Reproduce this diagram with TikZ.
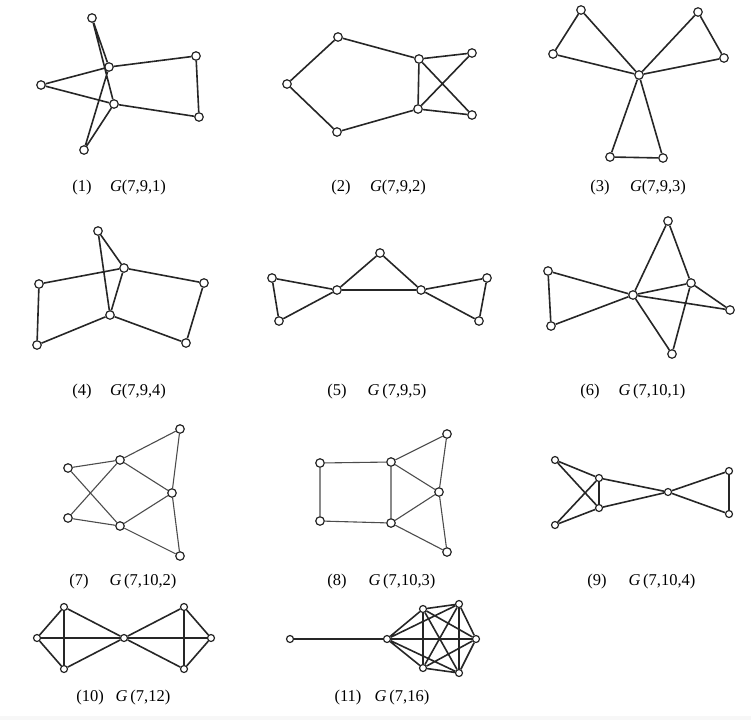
\documentclass[tikz,border=0pt]{standalone}
\usepackage{fontspec}
\setmainfont{Liberation Serif}
\begin{document}
\begin{tikzpicture}[x=1pt,y=-1pt,
  vtx/.style={circle,draw=black!85,fill=white,line width=1.2pt,inner sep=0pt,minimum size=8.5pt},
  svtx/.style={vtx,minimum size=7pt},
  edge/.style={draw=black!85,line width=1.6pt},
  tedge/.style={draw=black!70,line width=1.1pt},
  lbl/.style={font=\fontsize{16.5}{19}\selectfont,inner sep=0pt,anchor=center}]
\useasboundingbox (0,0) rectangle (751,720);
\fill[black!3] (0,716) rectangle (751,720);

% ---------- (1) ----------
\node[vtx] (1a) at (92,18) {};
\node[vtx] (1b) at (109,67) {};
\node[vtx] (1c) at (196,56) {};
\node[vtx] (1d) at (41,85) {};
\node[vtx] (1e) at (114,104) {};
\node[vtx] (1f) at (199,117) {};
\node[vtx] (1g) at (84,150) {};
\path[edge] (1a)--(1b) (1a)--(1e) (1b)--(1c) (1c)--(1f) (1b)--(1d)
  (1d)--(1e) (1e)--(1f) (1b)--(1g) (1e)--(1g);
\node[lbl] (l1n) at (82,188) {(1)};
\node[lbl] (l1g) at (138,188) {\textit{G}(7,9,1)};

% ---------- (2) ----------
\node[vtx] (2a) at (338,37) {};
\node[vtx] (2b) at (287,84) {};
\node[vtx] (2c) at (337,132) {};
\node[vtx] (2d) at (419,59) {};
\node[vtx] (2e) at (418,109) {};
\node[vtx] (2f) at (472,53) {};
\node[vtx] (2g) at (472,115) {};
\path[edge] (2a)--(2b) (2b)--(2c) (2a)--(2d) (2c)--(2e) (2d)--(2e)
  (2d)--(2f) (2e)--(2g) (2d)--(2g) (2e)--(2f);
\node[lbl] (l2n) at (341,188) {(2)};
\node[lbl] (l2g) at (398,188) {\textit{G}(7,9,2)};

% ---------- (3) ----------
\node[vtx] (3o) at (639,75) {};
\node[vtx] (3a) at (581,10) {};
\node[vtx] (3b) at (553,54) {};
\node[vtx] (3c) at (698,12) {};
\node[vtx] (3d) at (724,58) {};
\node[vtx] (3e) at (610,157) {};
\node[vtx] (3f) at (663,158) {};
\path[edge] (3a)--(3b) (3a)--(3o) (3b)--(3o) (3c)--(3d) (3c)--(3o)
  (3d)--(3o) (3e)--(3f) (3e)--(3o) (3f)--(3o);
\node[lbl] (l3n) at (600,188) {(3)};
\node[lbl] (l3g) at (658,188) {\textit{G}(7,9,3)};

% ---------- (4) ----------
\node[vtx] (4a) at (98,231) {};
\node[vtx] (4b) at (124,268) {};
\node[vtx] (4c) at (39,284) {};
\node[vtx] (4d) at (204,283) {};
\node[vtx] (4e) at (110,315) {};
\node[vtx] (4f) at (37,345) {};
\node[vtx] (4g) at (186,343) {};
\path[edge] (4a)--(4b) (4a)--(4e) (4b)--(4e) (4b)--(4c) (4c)--(4f)
  (4f)--(4e) (4b)--(4d) (4d)--(4g) (4g)--(4e);
\node[lbl] (l4n) at (82,392) {(4)};
\node[lbl] (l4g) at (138,392) {\textit{G}(7,9,4)};

% ---------- (5) ----------
\node[vtx] (5a) at (272,278) {};
\node[vtx] (5b) at (279,321) {};
\node[vtx] (5c) at (337,290) {};
\node[vtx] (5d) at (380,253) {};
\node[vtx] (5e) at (421,290) {};
\node[vtx] (5f) at (487,278) {};
\node[vtx] (5g) at (479,321) {};
\path[edge] (5a)--(5b) (5a)--(5c) (5b)--(5c) (5c)--(5d) (5d)--(5e)
  (5c)--(5e) (5e)--(5f) (5e)--(5g) (5f)--(5g);
\node[lbl] (l5n) at (337,392) {(5)};
\node[lbl] (l5g) at (397,392) {\textit{G}\,(7,9,5)};

% ---------- (6) ----------
\node[vtx] (6a) at (668,221) {};
\node[vtx] (6b) at (548,271) {};
\node[vtx] (6c) at (633,295) {};
\node[vtx] (6d) at (691,283) {};
\node[vtx] (6e) at (730,310) {};
\node[vtx] (6f) at (551,326) {};
\node[vtx] (6g) at (672,354) {};
\path[edge] (6b)--(6c) (6f)--(6c) (6b)--(6f) (6a)--(6c) (6a)--(6d)
  (6c)--(6d) (6d)--(6e) (6c)--(6e) (6c)--(6g) (6d)--(6g);
\node[lbl] (l6n) at (590,392) {(6)};
\node[lbl] (l6g) at (652,392) {\textit{G}\,(7,10,1)};

% ---------- (7) ----------
\node[vtx] (7a) at (180,429) {};
\node[vtx] (7b) at (68,468) {};
\node[vtx] (7c) at (120,460) {};
\node[vtx] (7d) at (172,493) {};
\node[vtx] (7e) at (68,518) {};
\node[vtx] (7f) at (120,526) {};
\node[vtx] (7g) at (180,556) {};
\path[tedge] (7b)--(7c) (7b)--(7f) (7e)--(7c) (7e)--(7f) (7c)--(7a)
  (7c)--(7d) (7f)--(7d) (7f)--(7g) (7a)--(7d) (7d)--(7g);
\node[lbl] (l7n) at (79,582) {(7)};
\node[lbl] (l7g) at (143,582) {\textit{G}\,(7,10,2)};

% ---------- (8) ----------
\node[vtx] (8a) at (447,434) {};
\node[vtx] (8b) at (320,463) {};
\node[vtx] (8c) at (391,462) {};
\node[vtx] (8d) at (439,492) {};
\node[vtx] (8e) at (320,521) {};
\node[vtx] (8f) at (391,523) {};
\node[vtx] (8g) at (447,552) {};
\path[tedge] (8b)--(8c) (8b)--(8e) (8e)--(8f) (8c)--(8f) (8c)--(8a)
  (8c)--(8d) (8f)--(8d) (8f)--(8g) (8a)--(8d) (8d)--(8g);
\node[lbl] (l8n) at (337,582) {(8)};
\node[lbl] (l8g) at (402,582) {\textit{G}\,(7,10,3)};

% ---------- (9) ----------
\node[svtx] (9a) at (555,460) {};
\node[svtx] (9b) at (599,478) {};
\node[svtx] (9c) at (599,508) {};
\node[svtx] (9d) at (555,525) {};
\node[svtx] (9e) at (668,492) {};
\node[svtx] (9f) at (729,471) {};
\node[svtx] (9g) at (729,514) {};
\path[edge] (9a)--(9b) (9a)--(9c) (9d)--(9b) (9d)--(9c) (9b)--(9c)
  (9b)--(9e) (9c)--(9e) (9e)--(9f) (9e)--(9g) (9f)--(9g);
\node[lbl] (l9n) at (597,582) {(9)};
\node[lbl] (l9g) at (662,582) {\textit{G}\,(7,10,4)};

% ---------- (10) ----------
\node[svtx] (10a) at (64,607) {};
\node[svtx] (10b) at (37,638) {};
\node[svtx] (10c) at (64,669) {};
\node[svtx] (10d) at (124,638) {};
\node[svtx] (10e) at (184,607) {};
\node[svtx] (10f) at (211,638) {};
\node[svtx] (10g) at (184,669) {};
\path[edge] (10a)--(10b) (10a)--(10c) (10a)--(10d) (10b)--(10c) (10b)--(10d) (10c)--(10d)
  (10e)--(10d) (10e)--(10f) (10e)--(10g) (10f)--(10g) (10f)--(10d) (10g)--(10d);
\node[lbl] (l10n) at (90,698) {(10)};
\node[lbl] (l10g) at (143,698) {\textit{G}\,(7,12)};

% ---------- (11) ----------
\node[svtx] (11a) at (290,639) {};
\node[svtx] (11b) at (387,639) {};
\node[svtx] (11c) at (423,609) {};
\node[svtx] (11d) at (459,604) {};
\node[svtx] (11e) at (476,639) {};
\node[svtx] (11f) at (423,668) {};
\node[svtx] (11g) at (459,673) {};
\path[edge] (11a)--(11b)
  (11b)--(11c) (11b)--(11d) (11b)--(11e) (11b)--(11f) (11b)--(11g)
  (11c)--(11d) (11c)--(11e) (11c)--(11f) (11c)--(11g)
  (11d)--(11e) (11d)--(11f) (11d)--(11g)
  (11e)--(11f) (11e)--(11g)
  (11f)--(11g);
\node[lbl] (l11n) at (348,698) {(11)};
\node[lbl] (l11g) at (402,698) {\textit{G}\,(7,16)};
\end{tikzpicture}
\end{document}
